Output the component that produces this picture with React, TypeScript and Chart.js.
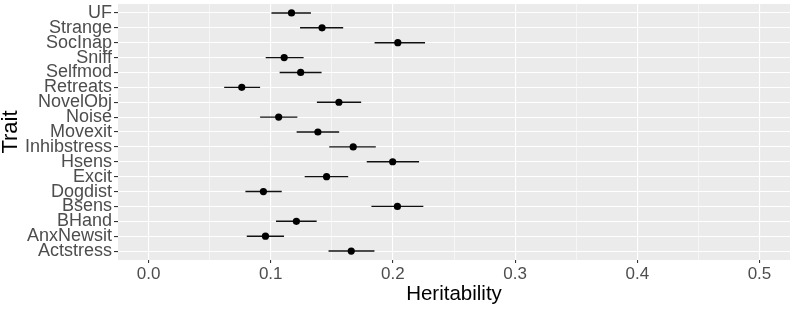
import React, { useEffect, useRef } from "react";
import { Chart, registerables } from "chart.js";

Chart.register(...registerables);

const TRAITS = [
  "UF", "Strange", "SocInap", "Sniff", "Selfmod", "Retreats", "NovelObj", "Noise",
  "Movexit", "Inhibstress", "Hsens", "Excit", "Dogdist", "Bsens", "BHand", "AnxNewsit", "Actstress",
];
const HERITABILITY = [
  0.117, 0.142, 0.204, 0.111, 0.1245, 0.0763, 0.1558, 0.1065,
  0.1386, 0.1675, 0.1998, 0.1457, 0.094, 0.2037, 0.121, 0.0957, 0.1659,
];
const LOWER = [
  0.1006, 0.124, 0.185, 0.0959, 0.1073, 0.0619, 0.1378, 0.0913,
  0.1212, 0.1479, 0.1786, 0.1278, 0.0793, 0.1824, 0.1043, 0.0804, 0.1473,
];
const UPPER = [
  0.1329, 0.1593, 0.2263, 0.1269, 0.1416, 0.0913, 0.174, 0.1218,
  0.156, 0.186, 0.2214, 0.1634, 0.109, 0.2249, 0.1376, 0.1109, 0.1849,
];
const X_MAJOR = [0, 0.1, 0.2, 0.3, 0.4, 0.5];
const X_MINOR = [0.05, 0.15, 0.25, 0.35, 0.45];
const X_MIN = -0.025;
const X_MAX = 0.525;

const FONT = "'Liberation Sans', Arial, sans-serif";

const panelBg = {
  id: "panelBg",
  beforeDraw(chart: any) {
    const { ctx, chartArea } = chart;
    ctx.save();
    ctx.fillStyle = "#EBEBEB";
    ctx.fillRect(chartArea.left, chartArea.top, chartArea.right - chartArea.left, chartArea.bottom - chartArea.top);
    ctx.restore();
  },
};

const isMajor = (v: number) => X_MAJOR.some((m) => Math.abs(m - v) < 1e-9);

export default function App() {
  const ref = useRef<HTMLCanvasElement | null>(null);
  useEffect(() => {
    if (!ref.current) return;
    const errorSets = TRAITS.map((t, i) => ({
      type: "line" as const,
      label: t + " CI",
      data: [
        { x: LOWER[i], y: i },
        { x: UPPER[i], y: i },
      ],
      showLine: true,
      borderColor: "#111111",
      borderWidth: 1.4,
      pointRadius: 0,
      order: 2,
    }));
    const chart = new Chart(ref.current, {
      type: "scatter",
      data: {
        datasets: [
          {
            label: "Heritability",
            data: HERITABILITY.map((v, i) => ({ x: v, y: i })),
            pointRadius: 3.6,
            pointBackgroundColor: "#000000",
            pointBorderWidth: 0,
            order: 0,
          } as any,
          ...errorSets,
        ],
      },
      options: {
        animation: false,
        responsive: false,
        devicePixelRatio: 1,
        layout: { padding: { top: 1, right: 1, left: 0, bottom: 0 } },
        plugins: { legend: { display: false }, tooltip: { enabled: false } },
        scales: {
          x: {
            type: "linear",
            min: X_MIN,
            max: X_MAX,
            afterBuildTicks: (scale: any) => {
              scale.ticks = [...X_MAJOR, ...X_MINOR].sort((a, b) => a - b).map((v) => ({ value: v }));
            },
            afterFit: (scale: any) => {
              scale.height = 49;
              scale.paddingLeft = 0;
              scale.paddingRight = 0;
            },
            border: { display: false },
            grid: {
              color: "#FFFFFF",
              lineWidth: (c: any) => (c.tick && isMajor(c.tick.value) ? 1.1 : 0.55),
              tickColor: (c: any) => (c.tick && isMajor(c.tick.value) ? "#333333" : "rgba(0,0,0,0)"),
              tickLength: 3,
              drawTicks: true,
            },
            ticks: {
              autoSkip: false,
              maxRotation: 0,
              padding: 1,
              color: "#4D4D4D",
              font: { family: FONT, size: 17 },
              callback: (v: any) => (isMajor(Number(v)) ? Number(v).toFixed(1) : ""),
            },
            title: {
              display: true,
              text: "Heritability",
              color: "#000000",
              font: { family: FONT, size: 20.5, lineHeight: 1 },
              padding: { top: 0, bottom: 4 },
            },
          },
          y: {
            type: "linear",
            reverse: true,
            min: -0.6,
            max: TRAITS.length - 1 + 0.6,
            afterBuildTicks: (scale: any) => {
              scale.ticks = TRAITS.map((_, i) => ({ value: i }));
            },
            afterFit: (scale: any) => {
              scale.width = 118;
              scale.paddingTop = 0;
              scale.paddingBottom = 0;
            },
            border: { display: false },
            grid: {
              color: "#FFFFFF",
              lineWidth: 1.1,
              tickColor: "#333333",
              tickLength: 4,
            },
            ticks: {
              autoSkip: false,
              padding: 2,
              color: "#4D4D4D",
              font: { family: FONT, size: 18 },
              callback: (v: any) => TRAITS[Math.round(Number(v))] ?? "",
            },
            title: {
              display: true,
              text: "Trait",
              color: "#000000",
              font: { family: FONT, size: 22, lineHeight: 1 },
              padding: { top: 0, bottom: 0 },
            },
          },
        },
      },
      plugins: [panelBg],
    } as any);
    return () => chart.destroy();
  }, []);
  return (
    <div style={{ position: "fixed", left: 0, top: 0, width: 794, height: 309 }}>
      <canvas ref={ref} width={794} height={309} style={{ width: 794, height: 309, display: "block" }} />
    </div>
  );
}
